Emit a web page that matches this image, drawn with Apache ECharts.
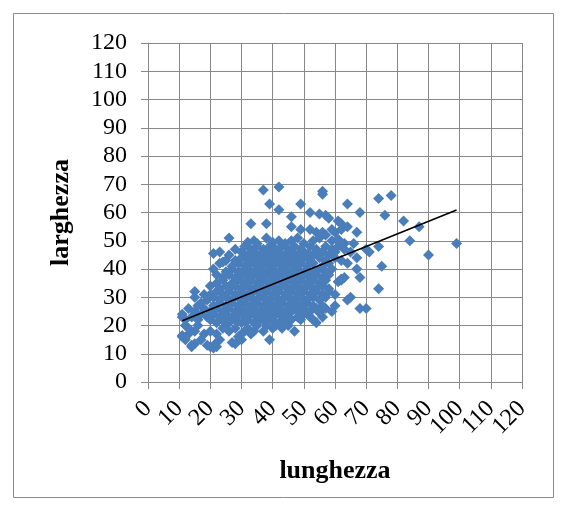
<!DOCTYPE html>
<html><head><meta charset="utf-8">
<script src="https://cdn.jsdelivr.net/npm/echarts@6/dist/echarts.min.js"></script>
<style>html,body{margin:0;padding:0;background:#fff}#c{width:567px;height:512px}</style>
</head><body><div id="c"></div>
<script>
// axis ranges / labels
const axisMin = 0, axisMax = 120, axisStep = 10;
const xTitle = 'lunghezza';
const yTitle = 'larghezza';
// trend line: [slope, intercept]
const trendCoeff = [0.445, 16.8];

// outlying points [lunghezza, larghezza]
const periferia = [
 [37,68],[42,69],[56,66.5],[56,67.5],[39,63],[42,61],[49,63],[52,60],[64,63],[68,60],[74,65],[78,66],[76,59],
 [82,57],[87,55],[84,50],[99,49],[90,45],[74,48],[75,41],[74,33],[71,46],[70,47],[68,37],[67,40],[67,44],
 [65,30],[64,29],[68,26],[70,26],[62,36],[61,35.5],[67,53],[33,56],[38,56],[46,58.5],[46,55],[26,51],
 [21,45.5],[23,46],[21,40],[24,42.5],[15,32],[11,24],[11,16.5],[14,12.5],[20,12.5],[22,12.5],[28,13.5],
 [37,18],[39,15],[43,19],[47,18],[49,22],[54,21],[55,24.5]
];
// lower band points
const fasciaBassa = [
 [11,16],[12,15],[13,17],[14,13],[15,13.5],[17,15],[19,13],[21,12],[22,14],[23,15],[27,14],
 [29,16],[30,15],[33,17],[31,18],[12,20],[13,19],[15,18],[16,20],[18,17],[20,18],[22,17],
 [24,19],[25,20],[26,18],[28,19],[30,17],[32,19],[34,18],[35,20],[38,20],[40,19],[41,20],[44,21],[45,20],
 [11,23],[12,22],[14,23],[16,22],[17,24],[19,23],[20,22],[21,24],[22,21],[23,23],[24,22],
 [25,24],[26,21],[27,23],[28,22],[29,24],[30,21],[31,23],[32,22],[33,24],[34,21],[35,23],[36,22],[37,24],
 [38,21],[39,23],[40,22],[41,24],[42,21],[43,23],[44,22],[45,24],[46,22],[48,23],[50,24],[52,23],[53,22],
 [56,23],[13,26],[15,25],[16,27],[17,28],[18,26],[20,25],[21,27],[22,26],[23,28],[24,25],
 [25,27],[26,26],[27,28],[28,25],[29,27],[30,26],[31,28],[32,25],[33,27],[34,26],[35,28],[36,25],[37,27],
 [38,26],[39,28],[40,25],[41,27],[42,26],[43,28],[44,25],[45,27],[46,26],[47,28],[48,25],[49,27],[50,26],
 [51,28],[52,25],[53,27],[54,26],[55,25.5],[56,27],[57,26],[59,25],[60,27]
];
// middle band points
const fasciaMedia = [
 [15,30],[18,31],[19,29],[20,31],[21,30],[22,32],[23,29],[24,31],[25,30],[26,32],[27,29],[28,31],
 [29,30],[30,32],[31,29],[32,31],[33,30],[34,32],[35,29],[36,31],[37,30],[38,32],[39,29],[40,31],[41,30],
 [42,32],[43,29],[44,31],[45,30],[46,32],[47,29],[48,31],[49,30],[50,32],[51,29],[52,31],[53,30],[54,32],
 [55,29],[56,31],[57,30],[58,32],[60,31],[20,34],[22,35],[23,33],[24,36],[25,34],[26,33],[27,35],[28,34],
 [29,36],[30,33],[31,35],[32,34],[33,36],[34,33],[35,35],[36,34],[37,36],[38,33],[39,35],[40,34],[41,36],
 [42,33],[43,35],[44,34],[45,36],[46,33],[47,35],[48,34],[49,36],[50,33],[51,35],[52,34],[53,36],[54,33],
 [55,35],[56,34],[57,36],[58,33],[62,36.5],[22,38],[24,37],[25,39],[26,38],[27,40],[28,37],[29,39],[30,38],
 [31,40],[32,37],[33,39],[34,38],[35,40],[36,37],[37,39],[38,38],[39,40],[40,37],[41,39],[42,38],[43,40],
 [44,37],[45,39],[46,38],[47,40],[48,37],[49,39],[50,38],[51,40],[52,37],[53,39],[54,38],[55,40],[56,37],
 [57,39],[58,38],[59,40],[63,37]
];
// upper band points
const fasciaAlta = [
 [23,42],[25,43],[27,41],[28,43],[29,42],[30,44],[31,41],[32,43],[33,42],[34,44],[35,41],[36,43],[37,42],
 [38,44],[39,41],[40,43],[41,42],[42,44],[43,41],[44,43],[45,42],[46,44],[47,41],[48,43],[49,42],[50,44],
 [51,41],[52,43],[53,42],[55,44],[56,41],[57,43],[58,42],[60,44],[62,43],[64,42],[26,45],[28,47],[30,46],
 [31,48],[32,45],[33,47],[34,46],[35,48],[36,45],[37,47],[38,46],[39,48],[40,45],[41,47],[42,46],[43,48],
 [44,45],[45,47],[46,46],[47,48],[48,45],[49,47],[50,46],[52,48],[53,45],[54,47],[56,46],[57,48],[58,45],
 [59,47],[60,46],[61,48],[63,47],[65,46],[32,49.5],[34,50],[35,49],[38,51],[40,49.5],[42,50],[44,49],
 [46,50],[48,51],[50,49],[53,50],[55,51],[57,52],[59,50],[61,50.5],[63,49],[66,49],[49,54],[52,54],[54,53],
 [56,53],[59,54],[60,53],[62,54],[64,55],[55,59.5],[57,59],[58,58],[61,57],[62,56]
];
// dense core points
const nucleo = [
 [30.5,25.5],[32.5,25.5],[34.5,25.5],[36.5,25.5],[38.5,25.5],[40.5,25.5],[42.5,25.5],[44.5,25.5],[46.5,25.5],[48.5,25.5],[50.5,25.5],
 [29.5,29.5],[31.5,29.5],[33.5,29.5],[35.5,29.5],[37.5,29.5],[39.5,29.5],[41.5,29.5],[43.5,29.5],[45.5,29.5],[47.5,29.5],[49.5,29.5],[51.5,29.5],
 [30.5,33.5],[32.5,33.5],[34.5,33.5],[36.5,33.5],[38.5,33.5],[40.5,33.5],[42.5,33.5],[44.5,33.5],[46.5,33.5],[48.5,33.5],[50.5,33.5],[52.5,33.5],
 [31.5,37.5],[33.5,37.5],[35.5,37.5],[37.5,37.5],[39.5,37.5],[41.5,37.5],[43.5,37.5],[45.5,37.5],[47.5,37.5],[49.5,37.5],[51.5,37.5],
 [32.5,41.5],[34.5,41.5],[36.5,41.5],[38.5,41.5],[40.5,41.5],[42.5,41.5],[44.5,41.5],[46.5,41.5],[48.5,41.5],
 [25.5,21.5],[28.5,21.5],[31.5,21.5],[34.5,21.5],[37.5,21.5],[40.5,21.5],[43.5,21.5],
 [36.5,45.5],[39.5,45.5],[42.5,45.5],[45.5,45.5],[51.5,45.5],[55.5,45.5]
];

const punti = periferia.concat(fasciaBassa, fasciaMedia, fasciaAlta, nucleo);
const xs = punti.map(p => p[0]);
const xLo = Math.min(...xs), xHi = Math.max(...xs);
const trend = [[xLo, trendCoeff[0]*xLo + trendCoeff[1]], [xHi, trendCoeff[0]*xHi + trendCoeff[1]]];

const gray = '#878787';
const font = 'Liberation Serif, Times New Roman, serif';
const labelBase = {rotate:45, fontFamily:font, fontSize:24, color:'#000', margin:23, hideOverlap:false};
// tick labels are split across two overlaid x axes (even / odd tens) so none is dropped
const isEven = v => Math.round(v / axisStep) % 2 === 0;
const chart = echarts.init(document.getElementById('c'), null, {renderer:'canvas'});
chart.setOption({
  animation:false,
  backgroundColor:'#fff',
  grid:{left:148, right:45, top:43, bottom:130, outerBoundsMode:'none', containLabel:false},
  graphic:[{type:'rect', shape:{x:13.5,y:13.5,width:540,height:484}, style:{fill:'none', stroke:'#8a8a8a', lineWidth:1}, silent:true}],
  xAxis:[{type:'value', min:axisMin, max:axisMax, interval:axisStep, position:'bottom', offset:0,
    name:xTitle, nameLocation:'middle', nameGap:76,
    nameTextStyle:{fontFamily:font, fontWeight:'bold', fontSize:26, color:'#000'},
    axisLine:{show:true, onZero:false, lineStyle:{color:gray, width:1}},
    axisTick:{show:true, inside:false, length:7, lineStyle:{color:gray}},
    axisLabel:Object.assign({}, labelBase, {showMinLabel:true, showMaxLabel:true, formatter: v => isEven(v) ? String(v) : ''}),
    splitLine:{show:true, lineStyle:{color:gray, width:1}}},
   {type:'value', min:axisMin, max:axisMax, interval:axisStep, position:'bottom', offset:0,
    axisLine:{show:false}, axisTick:{show:false}, splitLine:{show:false},
    axisLabel:Object.assign({}, labelBase, {formatter: v => isEven(v) ? '' : String(v)})}],
  yAxis:{type:'value', min:axisMin, max:axisMax, interval:axisStep,
    name:yTitle, nameLocation:'middle', nameGap:74, nameRotate:90,
    nameTextStyle:{fontFamily:font, fontWeight:'bold', fontSize:26, color:'#000'},
    axisLine:{show:true, onZero:false, lineStyle:{color:gray, width:1}},
    axisTick:{show:true, inside:false, length:7, lineStyle:{color:gray}},
    axisLabel:{fontFamily:font, fontSize:24, color:'#000', margin:21, showMinLabel:true, showMaxLabel:true},
    splitLine:{show:true, lineStyle:{color:gray, width:1}}},
  series:[
    {type:'scatter', data:punti, xAxisIndex:0, symbol:'diamond', symbolSize:11, itemStyle:{color:'#4a7ebb', opacity:1}, z:2},
    {type:'line', data:trend, xAxisIndex:0, symbol:'none', lineStyle:{color:'#000', width:1.6}, z:3}
  ]
});
</script></body></html>
